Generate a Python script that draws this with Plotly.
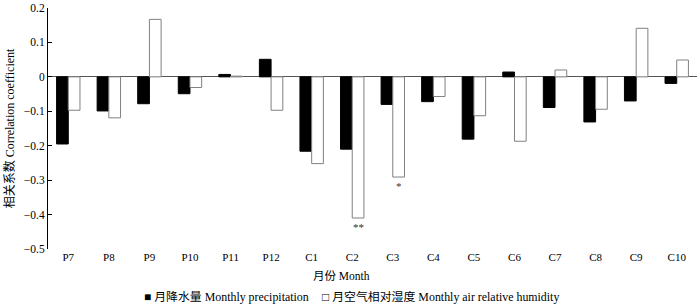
import plotly.graph_objects as go

months = ["P7", "P8", "P9", "P10", "P11", "P12", "C1", "C2", "C3", "C4",
          "C5", "C6", "C7", "C8", "C9", "C10"]
precip = [-0.195, -0.099, -0.078, -0.049, 0.007, 0.051, -0.216, -0.210, -0.080, -0.072,
          -0.181, 0.014, -0.089, -0.131, -0.070, -0.019]
humidity = [-0.097, -0.119, 0.167, -0.031, 0.002, -0.097, -0.252, -0.410, -0.291, -0.057,
            -0.113, -0.187, 0.020, -0.094, 0.141, 0.049]
signif = {"C2": "**", "C3": "*"}
yticks = [-0.5, -0.4, -0.3, -0.2, -0.1, 0, 0.1, 0.2]
yticktext = ["−0.5", "−0.4", "−0.3", "−0.2", "−0.1", "0", "0.1", "0.2"]

FONT = "Liberation Serif, Times New Roman, Noto Sans CJK SC, serif"

fig = go.Figure()
fig.add_trace(go.Bar(x=months, y=precip, name="月降水量 Monthly precipitation",
                     marker=dict(color="black", line=dict(color="black", width=1))))
fig.add_trace(go.Bar(x=months, y=humidity, name="月空气相对湿度 Monthly air relative humidity",
                     marker=dict(color="white", line=dict(color="#808080", width=1))))

for m, s in signif.items():
    v = humidity[months.index(m)]
    fig.add_annotation(x=m, y=v, text=s, showarrow=False, xshift=6, yanchor="top",
                       yshift=-1, font=dict(size=11, color="#333333", family=FONT))

PLOT_H = 304 - 8 - 55
fig.add_annotation(xref="paper", yref="paper", x=(341.7 - 48) / 649, y=-(276 - 249) / PLOT_H,
                   text="月份 Month", showarrow=False, xanchor="center", yanchor="middle",
                   font=dict(size=11.5, color="black", family=FONT))
fig.add_annotation(xref="paper", yref="paper", x=(142 - 48) / 649, y=-(296.5 - 249) / PLOT_H,
                   text="■ 月降水量 Monthly precipitation", showarrow=False,
                   xanchor="left", yanchor="middle",
                   font=dict(size=11.9, color="black", family=FONT))
fig.add_annotation(xref="paper", yref="paper", x=(320 - 48) / 649, y=-(296.5 - 249) / PLOT_H,
                   text="□ 月空气相对湿度 Monthly air relative humidity", showarrow=False,
                   xanchor="left", yanchor="middle",
                   font=dict(size=11.9, color="black", family=FONT))

fig.update_layout(
    width=700, height=304,
    margin=dict(l=48, r=3, t=8, b=55),
    paper_bgcolor="white", plot_bgcolor="white",
    barmode="group", bargap=0.423, bargroupgap=0,
    showlegend=False,
    font=dict(family=FONT, size=11, color="black"),
    xaxis=dict(showline=False, showgrid=False, zeroline=False, ticks="", automargin=False,
               tickfont=dict(size=11, family=FONT)),
    yaxis=dict(range=[-0.5, 0.2], tickvals=yticks, ticktext=yticktext, automargin=False,
               showline=True, linecolor="black", linewidth=1,
               ticks="inside", ticklen=4, tickcolor="black",
               showgrid=False, zeroline=True, zerolinecolor="#555555", zerolinewidth=1,
               tickfont=dict(size=11.5, family=FONT),
               title=dict(text="相关系数 Correlation coefficient", standoff=6,
                          font=dict(size=12, family=FONT))),
)

fig.write_html("out.html", config={"displayModeBar": False},
               post_script="document.body.style.margin='0';")
